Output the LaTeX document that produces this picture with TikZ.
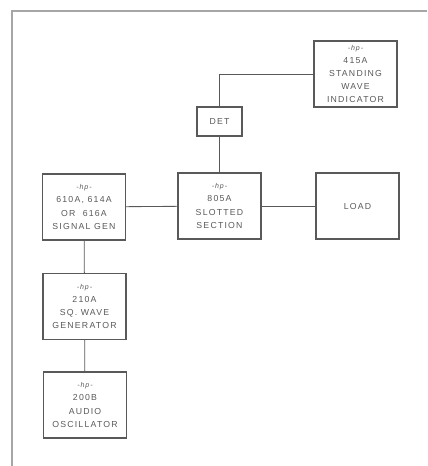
\documentclass[tikz,border=0pt]{standalone}
\usepackage{fontspec}
\setmainfont{Liberation Sans}[LetterSpace=14]
\usetikzlibrary{calc}
\definecolor{inkgray}{gray}{0.35}
\newcommand{\hpTag}{{\itshape\fontsize{5}{6}\selectfont -hp-}}

\begin{document}
\begin{tikzpicture}[x=0.025cm, y=-0.025cm, inkgray,
    unit/.style={draw, line width=0.9pt, rectangle, align=center, inner sep=0pt,
                 minimum width=2.07cm, minimum height=1.65cm,
                 font=\fontsize{6.2}{9.4}\selectfont},
    wire/.style={line width=0.6pt}]
  \useasboundingbox (0,0) rectangle (427,466);
  % page frame
  \draw [line width=1.1pt, gray!70] (12,466) -- (12,11) -- (427,11);
  % instruments
  \node [unit] (swr) at (355.5, 74) {\hpTag\\415A\\STANDING\\WAVE\\INDICATOR};
  \node [unit, minimum width=1.12cm, minimum height=0.72cm] (det) at (219.5, 121.5) {DET};
  \node [unit] (slot) at (219.5, 206) {\hpTag\\805A\\SLOTTED\\SECTION};
  \node [unit] (load) at (357.5, 206) {LOAD};
  \node [unit] (sig) at (84, 207) {\hpTag\\610A, 614A\\OR\ \ 616A\\SIGNAL GEN};
  \node [unit] (sq) at (84.5, 306.5) {\hpTag\\210A\\SQ. WAVE\\GENERATOR};
  \node [unit] (osc) at (85, 405) {\hpTag\\200B\\AUDIO\\OSCILLATOR};
  % connections
  \draw [wire] (det.north) |- (swr.west);
  \draw [wire] (slot) -- (det);
  \draw [wire] (sig) -- (slot);
  \draw [wire] (slot) -- (load);
  \draw [wire] (sig) -- (sq);
  \draw [wire] (sq) -- (osc);
\end{tikzpicture}
\end{document}
